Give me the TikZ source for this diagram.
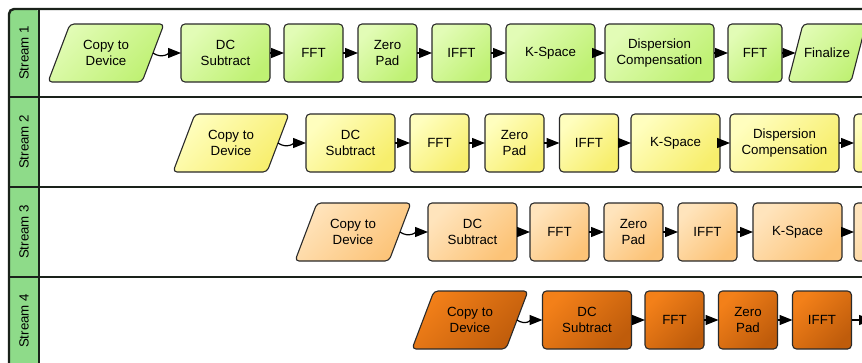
\documentclass[tikz,border=0pt]{standalone}
\usepackage{fontspec}
\setmainfont{Liberation Sans}
\usetikzlibrary{arrows.meta,backgrounds}
\definecolor{hdr}{HTML}{8EDB89}
\definecolor{frame}{HTML}{1A221A}
\definecolor{boxline}{HTML}{2A2A2A}
\definecolor{gA}{HTML}{E2FCB6}\definecolor{gB}{HTML}{BFF173}
\definecolor{yA}{HTML}{FFFEBE}\definecolor{yB}{HTML}{F7EE6C}
\definecolor{oA}{HTML}{FFE4BC}\definecolor{oB}{HTML}{FCC377}
\definecolor{dA}{HTML}{F38019}\definecolor{dB}{HTML}{BF5C0B}
\newcommand{\boxfont}{\fontsize{13.3}{16}\selectfont}
\tikzset{
  lane/.style={draw=frame, line width=2.4pt},
  box/.style={draw=boxline, line width=1.1pt, rounded corners=4pt, minimum height=58pt,
              align=center, font=\boxfont, inner sep=0pt, outer sep=0pt},
  ptext/.style={minimum height=58pt, align=center, font=\boxfont, inner sep=0pt, outer sep=0pt},
  pshape/.style={draw=boxline, line width=1.1pt, rounded corners=4pt},
  grn/.style={top color=gA, bottom color=gB, shading angle=45},
  yel/.style={top color=yA, bottom color=yB, shading angle=45},
  org/.style={top color=oA, bottom color=oB, shading angle=45},
  dor/.style={top color=dA, bottom color=dB, shading angle=45},
  arr/.style={line width=1.2pt, draw=black, -{Triangle[length=13pt,width=10pt]}},
  hlabel/.style={rotate=90, font=\boxfont},
}
\newcommand{\paranode}[7]{% name, x, y, side width, half slant, colour style, text
  \node[ptext, minimum width=#4] (#1) at (#2,#3) {#7};
  \begin{pgfonlayer}{background}
    \path[pshape, #6] ([xshift=#5]#1.north west) -- ([xshift=#5]#1.north east)
      -- ([xshift=-#5]#1.south east) -- ([xshift=-#5]#1.south west) -- cycle;
  \end{pgfonlayer}
}
\begin{document}
\begin{tikzpicture}[x=1pt,y=-1pt]
\useasboundingbox (0,0) rectangle (862,362);
\clip (0,0) rectangle (862,362);
% lanes
\fill[hdr, rounded corners=5pt] (9,380) -- (9,9) -- (39,9) [sharp corners] -- (39,380) -- cycle;
\draw[lane, rounded corners=5pt] (9,380) -- (9,9) -- (880,9);
\draw[lane] (39,9) -- (39,380);
\draw[lane] (9,97) -- (880,97);
\draw[lane] (9,187) -- (880,187);
\draw[lane] (9,277) -- (880,277);
\node[hlabel] (h1) at (24,53) {Stream 1};
\node[hlabel] (h2) at (24,142) {Stream 2};
\node[hlabel] (h3) at (24,232) {Stream 3};
\node[hlabel] (h4) at (24,321) {Stream 4};
% stream 1
\paranode{c1}{106}{53}{94pt}{11pt}{grn}{Copy to\\Device}
\node[box, grn, minimum width=89pt] (d1) at (225.5,53) {DC\\Subtract};
\node[box, grn, minimum width=59pt] (f1) at (313.5,53) {FFT};
\node[box, grn, minimum width=59pt] (z1) at (387.5,53) {Zero\\Pad};
\node[box, grn, minimum width=59pt] (i1) at (461.5,53) {IFFT};
\node[box, grn, minimum width=89pt] (k1) at (550.5,53) {K-Space};
\node[box, grn, minimum width=109pt] (p1) at (659.5,53) {Dispersion\\Compensation};
\node[box, grn, minimum width=54pt] (g1) at (755,53) {FFT};
\paranode{n1}{827}{53}{63pt}{7.5pt}{grn}{Finalize}
\draw[arr] (c1.east) to[out=-35,in=180] (d1.west);
\draw[arr] (d1.east) -- (f1.west);
\draw[arr] (f1.east) -- (z1.west);
\draw[arr] (z1.east) -- (i1.west);
\draw[arr] (i1.east) -- (k1.west);
\draw[arr] (k1.east) -- (p1.west);
\draw[arr] (p1.east) -- (g1.west);
\draw[arr] (g1.east) -- (n1.west);
% stream 2
\paranode{c2}{231}{143}{94pt}{11pt}{yel}{Copy to\\Device}
\node[box, yel, minimum width=89pt] (d2) at (350.5,143) {DC\\Subtract};
\node[box, yel, minimum width=59pt] (f2) at (439.5,143) {FFT};
\node[box, yel, minimum width=59pt] (z2) at (514.5,143) {Zero\\Pad};
\node[box, yel, minimum width=59pt] (i2) at (589,143) {IFFT};
\node[box, yel, minimum width=89pt] (k2) at (675.5,143) {K-Space};
\node[box, yel, minimum width=109pt] (p2) at (784.5,143) {Dispersion\\Compensation};
\node[box, yel, minimum width=54pt] (g2) at (881,143) {};
\draw[arr] (c2.east) to[out=-35,in=180] (d2.west);
\draw[arr] (d2.east) -- (f2.west);
\draw[arr] (f2.east) -- (z2.west);
\draw[arr] (z2.east) -- (i2.west);
\draw[arr] (i2.east) -- (k2.west);
\draw[arr] (k2.east) -- (p2.west);
\draw[arr] (p2.east) -- (g2.west);
% stream 3
\paranode{c3}{353}{232}{94pt}{11pt}{org}{Copy to\\Device}
\node[box, org, minimum width=89pt] (d3) at (472.5,232) {DC\\Subtract};
\node[box, org, minimum width=59pt] (f3) at (559.5,232) {FFT};
\node[box, org, minimum width=59pt] (z3) at (633.5,232) {Zero\\Pad};
\node[box, org, minimum width=59pt] (i3) at (707.5,232) {IFFT};
\node[box, org, minimum width=89pt] (k3) at (797.5,232) {K-Space};
\node[box, org, minimum width=109pt] (p3) at (908.5,232) {};
\draw[arr] (c3.east) to[out=-35,in=180] (d3.west);
\draw[arr] (d3.east) -- (f3.west);
\draw[arr] (f3.east) -- (z3.west);
\draw[arr] (z3.east) -- (i3.west);
\draw[arr] (i3.east) -- (k3.west);
\draw[arr] (k3.east) -- (p3.west);
% stream 4
\paranode{c4}{470}{320}{94pt}{11pt}{dor}{Copy to\\Device}
\node[box, dor, minimum width=89pt] (d4) at (587,320) {DC\\Subtract};
\node[box, dor, minimum width=59pt] (f4) at (674.5,320) {FFT};
\node[box, dor, minimum width=59pt] (z4) at (748,320) {Zero\\Pad};
\node[box, dor, minimum width=59pt] (i4) at (822,320) {IFFT};
\coordinate (k4) at (872,320);
\draw[arr] (c4.east) to[out=-35,in=180] (d4.west);
\draw[arr] (d4.east) -- (f4.west);
\draw[arr] (f4.east) -- (z4.west);
\draw[arr] (z4.east) -- (i4.west);
\draw[arr] (i4.east) -- (k4);
\end{tikzpicture}
\end{document}
